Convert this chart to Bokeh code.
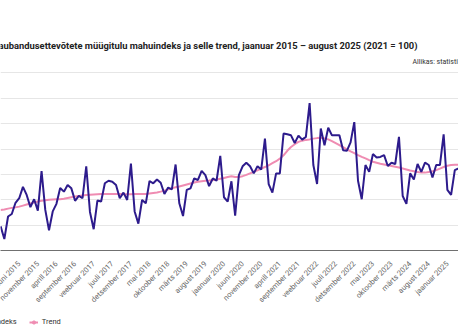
import math
from bokeh.plotting import figure
from bokeh.layouts import column
from bokeh.models import (FixedTicker, Label, Legend, LegendItem, ColumnDataSource,
                          Range1d, Grid)
from bokeh.embed import file_html
from bokeh.resources import INLINE

# ---- data -------------------------------------------------------------
mahuindeks = [
    69.5, 64.5, 73.4, 74.4, 78.8, 80.6, 85.1, 81.9, 77.1, 80.2, 75.7, 91.3,   # 2015
    76.0, 68.0, 75.4, 78.4, 84.6, 83.2, 85.8, 84.5, 79.6, 81.5, 80.6, 93.2,   # 2016
    75.2, 68.4, 79.7, 79.3, 86.5, 87.5, 87.1, 85.8, 80.6, 82.8, 79.9, 94.3,   # 2017
    75.4, 70.6, 79.9, 78.6, 87.4, 86.5, 88.0, 86.7, 82.3, 84.8, 84.1, 93.9,   # 2018
    78.6, 73.6, 83.9, 84.5, 88.4, 87.8, 91.4, 89.7, 85.4, 88.4, 87.5, 97.3,   # 2019
    81.0, 79.3, 87.3, 73.7, 89.7, 93.2, 94.6, 93.2, 90.4, 93.2, 91.9, 104.1,  # 2020
    86.2, 82.8, 90.4, 90.4, 106.1, 105.8, 105.4, 102.4, 105.3, 103.7, 104.8, 118.1,  # 2021
    93.7, 86.2, 108.1, 101.5, 108.4, 105.4, 105.4, 105.4, 99.5, 99.3, 102.6, 110.6,  # 2022
    87.5, 80.2, 93.7, 91.0, 98.0, 96.7, 96.9, 97.6, 93.3, 94.6, 94.1, 104.8,  # 2023
    81.5, 78.4, 90.4, 88.0, 94.1, 91.0, 94.6, 93.7, 88.8, 93.7, 93.7, 105.8,  # 2024
    83.9, 81.9, 91.7, 92.4, 93.5, 95.0, 96.0, 94.5,                           # 2025
]
trend = [
    76.0, 76.2, 76.5, 76.8, 77.0, 77.3, 77.7, 78.1, 78.5, 78.9, 79.3, 79.6,
    79.8, 80.0, 80.1, 80.2, 80.2, 80.4, 80.7, 81.0, 81.3, 81.5, 81.7, 81.9,
    82.0, 82.1, 82.2, 82.3, 82.3, 82.3, 82.3, 82.3, 82.3, 82.2, 82.2, 82.2,
    82.3, 82.3, 82.3, 82.3, 82.5, 82.7, 82.9, 83.2, 83.6, 84.1, 84.5, 84.9,
    85.2, 85.6, 86.0, 86.4, 86.8, 87.1, 87.3, 87.5, 87.6, 87.8, 88.0, 88.3,
    88.6, 89.0, 89.3, 89.0, 89.0, 89.3, 89.8, 90.4, 91.0, 91.6, 92.3, 92.9,
    93.6, 94.4, 95.2, 96.2, 97.5, 99.3, 100.8, 101.9, 102.8, 103.3, 103.6, 103.8,
    104.1, 104.3, 104.4, 104.2, 103.8, 103.1, 102.3, 101.5, 100.7, 99.9, 99.1, 98.4,
    97.6, 96.9, 96.3, 95.6, 95.0, 94.6, 94.2, 93.9, 93.6, 93.3, 93.0, 92.7,
    92.3, 91.9, 91.5, 91.2, 90.9, 90.7, 90.7, 90.9, 91.2, 91.7, 92.3, 92.9,
    93.4, 93.7, 93.8, 93.8, 93.8, 93.9, 94.0, 94.1,
]
month_index = list(range(len(mahuindeks)))

tick_positions = [0, 5, 10, 15, 20, 25, 30, 35, 40, 45, 50, 55, 60, 65, 70, 75,
                  80, 85, 90, 95, 100, 105, 110, 115, 120, 125]
tick_labels = [
    "jaanuar 2015", "juuni 2015", "november 2015", "aprill 2016", "september 2016",
    "veebruar 2017", "juuli 2017", "detsember 2017", "mai 2018", "oktoober 2018",
    "märts 2019", "august 2019", "jaanuar 2020", "juuni 2020", "november 2020",
    "aprill 2021", "september 2021", "veebruar 2022", "juuli 2022", "detsember 2022",
    "mai 2023", "oktoober 2023", "märts 2024", "august 2024", "jaanuar 2025", "juuni 2025",
]
y_ticks = [70, 80, 90, 100, 110, 120, 130]
series_names = ["Mahuindeks", "Trend"]

title_text = "Jaekaubandusettevõtete müügitulu mahuindeks ja selle trend, jaanuar 2015 – august 2025 (2021 = 100)"
source_text = "Allikas: statistikaamet"

# ---- styles -----------------------------------------------------------
FONT = "Roboto"
MAIN_COLOR = "#2d1b8c"
TREND_COLOR = "#ef8cb2"
W = 458
H_CHART = 310
H_LEGEND = 336 - H_CHART
FRAME_BOTTOM = 252          # px from top of canvas
GRID_TOP = 73               # px where 130 sits
px_per_unit = (FRAME_BOTTOM - GRID_TOP) / (130 - 60)
y_top = 130 + GRID_TOP / px_per_unit

# ---- chart ------------------------------------------------------------
p = figure(width=W, height=H_CHART, output_backend="svg", toolbar_location=None,
           x_range=Range1d(-0.03, 122.99), y_range=Range1d(60, y_top),
           y_axis_location=None,
           min_border_left=0, min_border_right=0, min_border_top=0,
           min_border_bottom=H_CHART - FRAME_BOTTOM)
p.outline_line_color = None
p.background_fill_color = "white"
p.border_fill_color = "white"
p.xgrid.visible = False
p.ygrid.visible = False
p.add_layout(Grid(dimension=1, ticker=FixedTicker(ticks=y_ticks),
                  grid_line_color="#e6e6e6", grid_line_width=1))

src = ColumnDataSource(dict(x=month_index, m=mahuindeks, t=trend))
p.line("x", "t", source=src, line_color=TREND_COLOR, line_width=2)
p.line("x", "m", source=src, line_color=MAIN_COLOR, line_width=2)

ax = p.xaxis[0]
ax.ticker = FixedTicker(ticks=tick_positions)
ax.major_label_overrides = {t: (l if t > 0 else "") for t, l in zip(tick_positions, tick_labels)}
ax.major_label_orientation = math.pi / 4
ax.major_label_text_font = FONT
ax.major_label_text_font_size = "7.5px"
ax.major_label_text_color = "#666666"
ax.major_label_standoff = 6
ax.major_tick_line_color = None
ax.minor_tick_line_color = None
ax.axis_line_color = "#707070"
ax.axis_line_width = 1

p.add_layout(Label(x=417, y=FRAME_BOTTOM - 47, x_units="screen", y_units="screen",
                   text=title_text, text_align="right", text_baseline="middle",
                   text_font=FONT, text_font_size="9.4px", text_font_style="bold",
                   text_color="#222222"))
p.add_layout(Label(x=412, y=FRAME_BOTTOM - 63, x_units="screen", y_units="screen",
                   text=source_text, text_align="left", text_baseline="middle",
                   text_font=FONT, text_font_size="7px", text_color="#333333"))

# ---- legend strip -----------------------------------------------------
q = figure(width=W, height=H_LEGEND, output_backend="svg", toolbar_location=None,
           x_range=Range1d(-1000, -999), y_range=Range1d(-1000, -999),
           x_axis_location=None, y_axis_location=None,
           min_border_left=0, min_border_right=0, min_border_top=0, min_border_bottom=0)
q.outline_line_color = None
q.xgrid.visible = False
q.ygrid.visible = False
# legend keys: same series, drawn outside this strip's visible range
k_main = q.line(month_index, mahuindeks, line_color=MAIN_COLOR, line_width=2)
k_trend = q.line(month_index, trend, line_color=TREND_COLOR, line_width=2)
k_mark = q.scatter(month_index, trend, marker="circle", size=5,
                   fill_color=TREND_COLOR, line_color=TREND_COLOR)
legend = Legend(items=[LegendItem(label=series_names[0], renderers=[k_main]),
                       LegendItem(label=series_names[1], renderers=[k_trend, k_mark])],
                orientation="horizontal", location=(-37, 10),
                glyph_width=9, glyph_height=8, label_standoff=4, spacing=12,
                padding=0, margin=0, border_line_color=None, background_fill_alpha=0,
                label_text_font=FONT, label_text_font_size="7.5px",
                label_text_color="#333333", label_height=8)
q.add_layout(legend, "center")

open("out.html", "w").write(file_html(column(p, q, spacing=0), INLINE))
